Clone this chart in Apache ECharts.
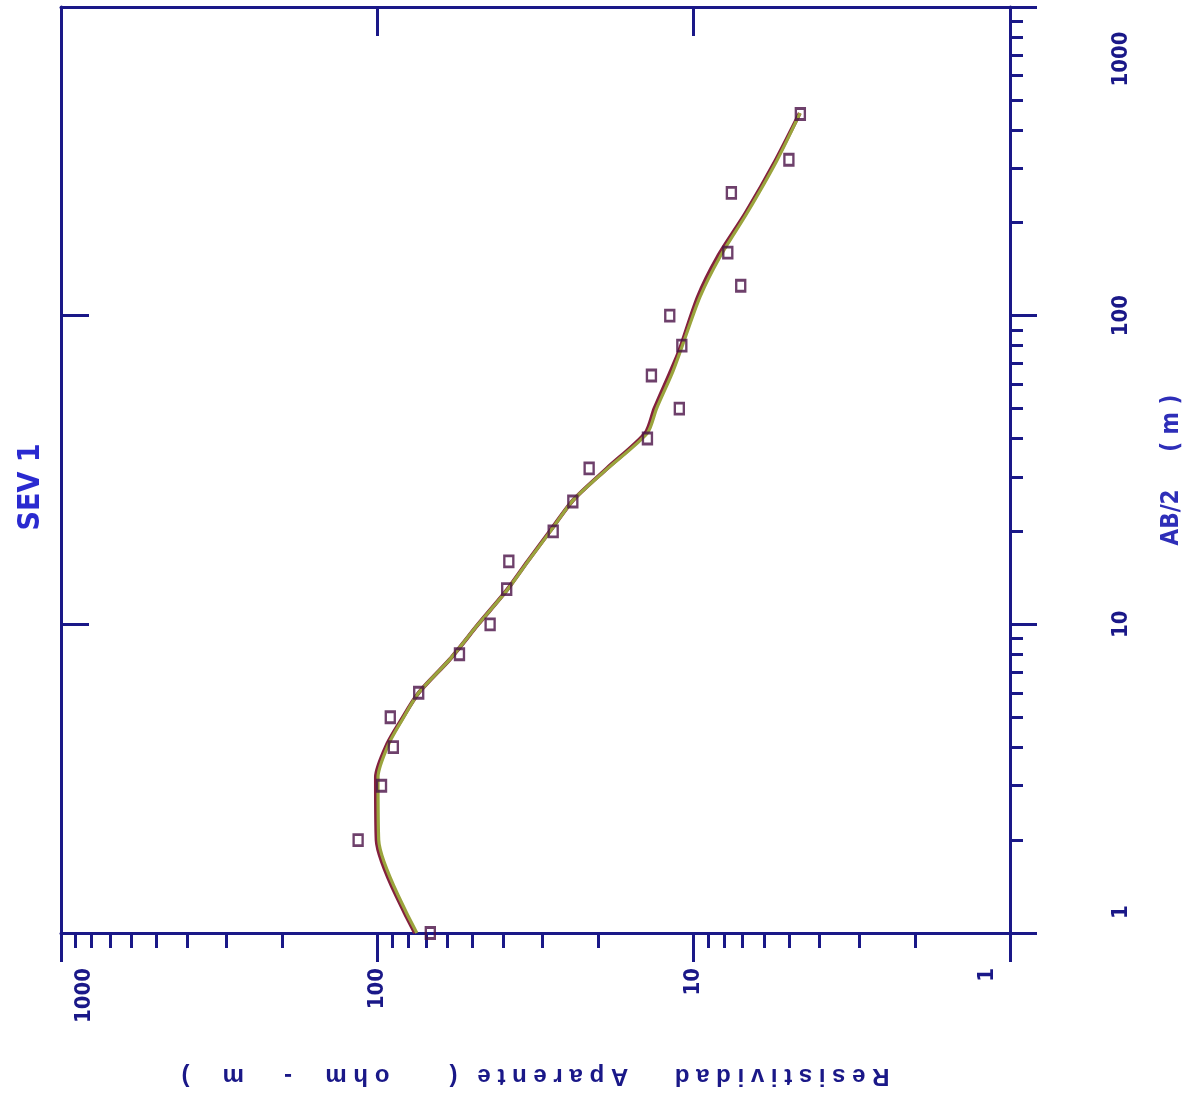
<!DOCTYPE html>
<html><head><meta charset="utf-8">
<script src="https://cdn.jsdelivr.net/npm/echarts@6/dist/echarts.min.js"></script>
<style>html,body{margin:0;padding:0;background:#fff}#c{width:1191px;height:1099px}</style>
</head><body><div id="c"></div>
<script>
// AB/2 spacing (m) and observed apparent resistivity (ohm-m)
const abHalf = [1, 2, 3, 4, 5, 6, 8, 10, 13, 16, 20, 25, 32, 40, 50, 64, 80, 100, 125, 160, 250, 320, 450];
const rhoObs = [68, 115, 97, 89, 91, 74, 55, 44, 39, 38.4, 27.8, 24.1, 21.4, 14, 11.1, 13.6, 10.9, 11.9, 7.1, 7.8, 7.6, 5.0, 4.6];
// model curves
const curveAB   = [1, 2, 3.2, 4.1, 4.9, 6, 7.7, 10, 12.9, 16, 20, 25.3, 32, 41.7, 50, 65, 77, 115, 155, 215, 319, 453];
const rhoFit    = [75, 99, 99.5, 92, 83.5, 74, 59, 48, 38.9, 33.4, 28.4, 24, 18.7, 14, 13.1, 11.7, 11.0, 9.55, 8.26, 6.78, 5.45, 4.61];
const rhoCalc   = [76, 100.5, 101, 93, 84, 74, 59, 48, 39, 33.5, 28.5, 24, 18.8, 14.2, 13.3, 11.9, 11.1, 9.7, 8.4, 6.85, 5.5, 4.62];
// minor tick values (per decade)
const minorTickVals = [2,3,4,5,6,7,8,9,20,30,40,50,60,70,80,90,200,300,400,500,600,700,800,900];
const minorLog = minorTickVals.map(v => Math.log10(v));

const NAVY = '#1a1888';
const LABEL_FONT = "'Liberation Sans Narrow','DejaVu Sans Condensed','Arial Narrow',sans-serif";
const lineStyleAxis = {color: NAVY, width: 3};
const sp = n => ' '.repeat(n);
const xName = 'R e s i s t i v i d a d' + sp(7) + 'A p a r e n t e' + sp(3) + '(' + sp(9) +
              'o h m' + sp(5) + '-' + sp(6) + 'm' + sp(5) + ')';

const chart = echarts.init(document.getElementById('c'), null, {renderer: 'canvas'});
chart.setOption({
  animation: false,
  backgroundColor: '#ffffff',
  grid: {left: 61, top: 7, width: 949, height: 926, containLabel: false, outerBoundsMode: 'none'},
  xAxis: [
    { // bottom main (resistivity)
      type: 'log', logBase: 10, min: 1, max: 1000, inverse: true, position: 'bottom',
      axisLine: {show: true, onZero: false, lineStyle: lineStyleAxis},
      axisTick: {show: true, inside: false, length: 29, lineStyle: {color: NAVY, width: 3}},
      splitLine: {show: false},
      axisLabel: {
        show: true, rotate: 90, margin: 35, color: NAVY, fontFamily: LABEL_FONT,
        fontSize: 22, fontWeight: 'bold', lineHeight: 46,
        formatter: v => v === 1000 ? '\n1000' : (v === 1 ? '1\n' : String(v))
      },
      name: xName,
      nameLocation: 'middle', nameRotate: 180, nameGap: 131,
      nameTextStyle: {color: NAVY, fontFamily: 'Liberation Sans, Arial, sans-serif', fontWeight: 'bold', fontSize: 24}
    },
    { // bottom minor ticks
      type: 'value', min: 0, max: 3, inverse: true, position: 'bottom',
      axisLine: {show: false, onZero: false},
      axisTick: {show: true, inside: false, length: 15, customValues: minorLog, lineStyle: {color: NAVY, width: 3}},
      axisLabel: {show: false}, splitLine: {show: false}
    },
    { // top border
      type: 'log', logBase: 10, min: 1, max: 1000, inverse: true, position: 'top',
      axisLine: {show: true, onZero: false, lineStyle: lineStyleAxis},
      axisTick: {show: true, inside: true, length: 29, lineStyle: {color: NAVY, width: 3}},
      axisLabel: {show: false}, splitLine: {show: false}
    }
  ],
  yAxis: [
    { // right main (AB/2)
      type: 'log', logBase: 10, min: 1, max: 1000, position: 'right',
      axisLine: {show: true, onZero: false, lineStyle: lineStyleAxis},
      axisTick: {show: true, inside: false, length: 27, lineStyle: {color: NAVY, width: 3}},
      splitLine: {show: false},
      axisLabel: {
        show: true, rotate: 90, margin: 100,
        formatter: v => v === 1000 ? '{n|1000}{sp|}' : (v === 1 ? '{sp2|}{n|1}' : '{n|' + v + '}'),
        rich: {
          n: {color: NAVY, fontFamily: LABEL_FONT, fontSize: 22, fontWeight: 'bold'},
          sp: {width: 104},
          sp2: {width: 42}
        }
      },
      name: 'AB/2     ( m )', nameLocation: 'middle', nameGap: 150,
      nameTextStyle: {color: '#2e2eb8', fontFamily: LABEL_FONT, fontSize: 24, fontWeight: 'bold'}
    },
    { // right minor ticks
      type: 'value', min: 0, max: 3, position: 'right',
      axisLine: {show: false, onZero: false},
      axisTick: {show: true, inside: false, length: 13, customValues: minorLog, lineStyle: {color: NAVY, width: 3}},
      axisLabel: {show: false}, splitLine: {show: false}
    },
    { // left border
      type: 'log', logBase: 10, min: 1, max: 1000, position: 'left',
      axisLine: {show: true, onZero: false, lineStyle: lineStyleAxis},
      axisTick: {show: true, inside: true, length: 28, lineStyle: {color: NAVY, width: 3}},
      axisLabel: {show: false}, splitLine: {show: false},
      name: 'SEV 1', nameLocation: 'middle', nameGap: 15,
      nameTextStyle: {color: '#2a2ad0', fontFamily: LABEL_FONT, fontSize: 30, fontWeight: 'bold', padding: [0, 34, 0, 0]}
    }
  ],
  series: [
    {
      type: 'line', xAxisIndex: 0, yAxisIndex: 0, smooth: 0.25, symbol: 'none', z: 2,
      lineStyle: {color: '#84203e', width: 4},
      data: curveAB.map((ab, i) => [rhoCalc[i], ab])
    },
    {
      type: 'line', xAxisIndex: 0, yAxisIndex: 0, smooth: 0.25, symbol: 'none', z: 3,
      lineStyle: {color: '#9aa43c', width: 3.2},
      data: curveAB.map((ab, i) => [rhoFit[i], ab])
    },
    {
      type: 'scatter', xAxisIndex: 0, yAxisIndex: 0, symbol: 'rect', symbolSize: [9, 11], z: 4,
      itemStyle: {color: 'rgba(255,255,255,0)', borderColor: '#4a1046', borderWidth: 2.6},
      data: abHalf.map((ab, i) => [rhoObs[i], ab])
    }
  ]
});
</script>
</body></html>
